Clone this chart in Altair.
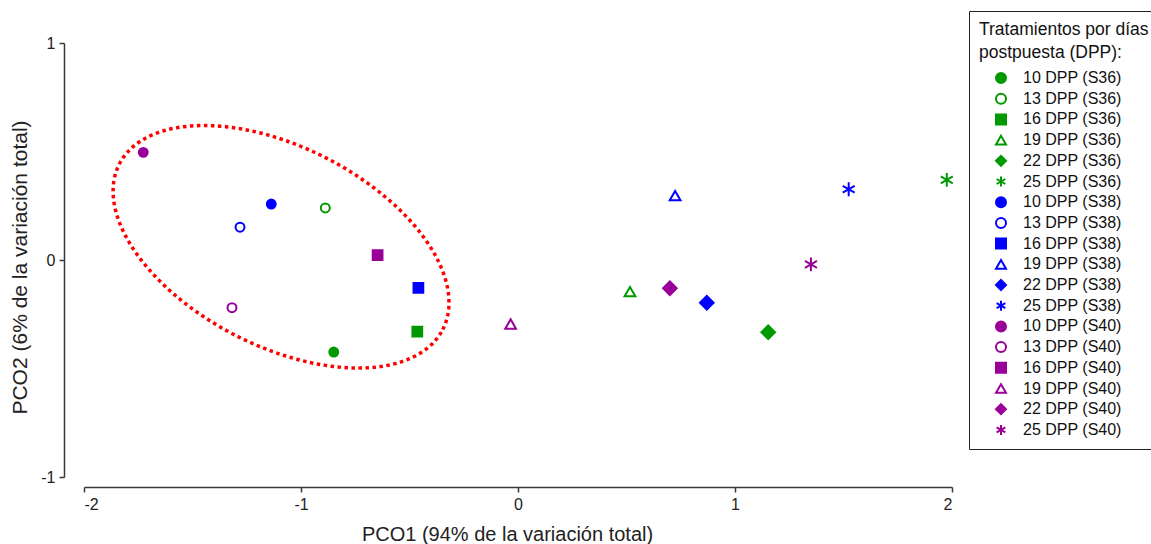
import math
import altair as alt
import pandas as pd

# Treatments: days post-laying for each of three temperature series
days = ["10 DPP", "13 DPP", "16 DPP", "19 DPP", "22 DPP", "25 DPP"]
series = ["S36", "S38", "S40"]
series_colors = ["#009900", "#0000ff", "#990099"]

# PCO scores per series (same order as `days`)
pco1_s36 = [-0.849, -0.888, -0.464, 0.516, 1.153, 1.976]
pco2_s36 = [-0.424, 0.240, -0.330, -0.146, -0.333, 0.369]
pco1_s38 = [-1.137, -1.281, -0.459, 0.724, 0.870, 1.524]
pco2_s38 = [0.258, 0.151, -0.128, 0.297, -0.197, 0.326]
pco1_s40 = [-1.727, -1.318, -0.647, -0.034, 0.700, 1.350]
pco2_s40 = [0.496, -0.220, 0.023, -0.295, -0.130, -0.020]

# Marker style per day: shape, whether it is filled, and symbol area
ASTERISK = "M0,-1L0,1M-0.87,-0.5L0.87,0.5M-0.87,0.5L0.87,-0.5"
day_shapes = ["circle", "circle", "square", "triangle-up", "diamond", ASTERISK]
day_filled = [True, False, True, False, True, False]
day_sizes = [80, 80, 95, 115, 185, 190]

# Group outline (ellipse around the early-day treatments)
ell_cx, ell_cy = -1.092, 0.061
ell_a, ell_b = 0.837, 0.459
ell_angle_deg = -27.1

xs = [pco1_s36, pco1_s38, pco1_s40]
ys = [pco2_s36, pco2_s38, pco2_s40]

rows = []
labels, shapes, strokes, fills = [], [], [], []
for si, s in enumerate(series):
    for di, d in enumerate(days):
        lab = f"{d} ({s})"
        rows.append({"label": lab, "day": d, "pco1": xs[si][di], "pco2": ys[si][di]})
        labels.append(lab)
        shapes.append(day_shapes[di])
        strokes.append(series_colors[si])
        fills.append(series_colors[si] if day_filled[di] else "transparent")
points_df = pd.DataFrame(rows)

ang = math.radians(ell_angle_deg)
ell_rows = []
for k in range(361):
    t = math.radians(k)
    ex = ell_a * math.cos(t)
    ey = ell_b * math.sin(t)
    ell_rows.append({
        "k": k,
        "pco1": ell_cx + ex * math.cos(ang) - ey * math.sin(ang),
        "pco2": ell_cy + ex * math.sin(ang) + ey * math.cos(ang),
    })
ell_df = pd.DataFrame(ell_rows)

FONT = "Liberation Sans"
AXIS_COLOR = "#3a3a3a"

x_enc = alt.X(
    "pco1:Q",
    scale=alt.Scale(domain=[-2, 2], nice=False, zero=False),
    axis=alt.Axis(
        values=[-2, -1, 0, 1, 2], offset=10, grid=False, tickSize=5,
        labelExpr="'' + datum.value",
        title="PCO1 (94% de la variación total)", titlePadding=12,
        titleX=423, titleAlign="center",
    ),
)
y_enc = alt.Y(
    "pco2:Q",
    scale=alt.Scale(domain=[-1, 1], nice=False, zero=False),
    axis=alt.Axis(
        values=[-1, 0, 1], offset=20, grid=False, tickSize=5,
        labelExpr="'' + datum.value",
        title="PCO2 (6% de la variación total)", titlePadding=10,
        titleY=224, titleAlign="center", titleFontSize=21,
    ),
)

ellipse = alt.Chart(ell_df).mark_line(
    color="#ff0000", strokeWidth=3.5, strokeDash=[3.5, 3.5]
).encode(x=x_enc, y=y_enc, order=alt.Order("k:Q"))

legend = alt.Legend(
    title=["Tratamientos por días", "postpuesta (DPP):"],
    orient="none", legendX=885, legendY=-32,
)
scale_dom = dict(domain=labels)
base = alt.Chart(points_df).encode(
    x=x_enc,
    y=y_enc,
    shape=alt.Shape("label:N", scale=alt.Scale(range=shapes, **scale_dom), legend=legend),
    stroke=alt.Stroke("label:N", scale=alt.Scale(range=strokes, **scale_dom), legend=legend),
    fill=alt.Fill("label:N", scale=alt.Scale(range=fills, **scale_dom), legend=legend),
)
# one layer per marker type so each can carry its own symbol area
point_layers = [
    base.transform_filter(alt.datum.day == d).mark_point(
        opacity=1, strokeWidth=2, size=day_sizes[di]
    )
    for di, d in enumerate(days)
]

chart = (
    alt.layer(ellipse, *point_layers)
    .properties(
        width=868, height=434,
        padding={"left": 84, "top": 43, "right": 199, "bottom": 67},
        autosize=alt.AutoSizeParams(type="none"),
    )
    .configure_view(stroke=None)
    .configure_axis(
        domainColor=AXIS_COLOR, tickColor=AXIS_COLOR, domainWidth=1.5, tickWidth=1.5,
        labelFont=FONT, labelFontSize=16, labelColor="#222222", labelPadding=4,
        titleFont=FONT, titleFontSize=20, titleFontWeight="normal", titleColor="#222222",
    )
    .configure_legend(
        titleFont=FONT, titleFontSize=17.5, titleFontWeight="normal", titleColor="#111111",
        titleLineHeight=22.5, titlePadding=9, titleLimit=400,
        labelFont=FONT, labelFontSize=16, labelColor="#111111",
        padding=10, strokeColor="#222222", fillColor="white", cornerRadius=0,
        symbolOffset=14, labelOffset=14, rowPadding=2.7, symbolStrokeWidth=2,
        symbolSize=100,
    )
)

chart.save("out.html", embed_options={"renderer": "svg", "actions": False})
